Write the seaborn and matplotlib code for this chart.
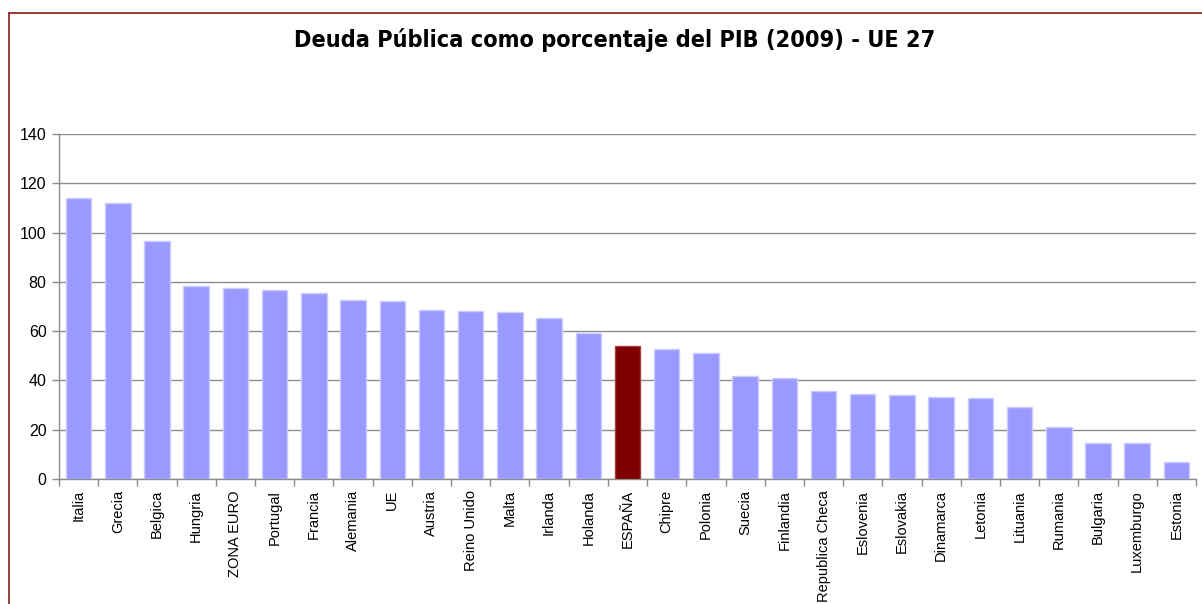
import matplotlib
matplotlib.use("Agg")
import matplotlib.pyplot as plt
import seaborn as sns
import numpy as np
from matplotlib.lines import Line2D
from matplotlib import font_manager

paises = ["Italia", "Grecia", "Belgica", "Hungria", "ZONA EURO", "Portugal", "Francia",
          "Alemania", "UE", "Austria", "Reino Unido", "Malta", "Irlanda", "Holanda",
          "ESPAÑA", "Chipre", "Polonia", "Suecia", "Finlandia", "Republica Checa",
          "Eslovenia", "Eslovakia", "Dinamarca", "Letonia", "Lituania", "Rumania",
          "Bulgaria", "Luxemburgo", "Estonia"]
deuda = [114.0, 112.1, 96.6, 78.5, 77.5, 76.7, 75.4, 72.5, 72.3, 68.6, 68.0, 67.8, 65.3,
         59.2, 53.8, 52.6, 51.1, 41.6, 40.8, 35.9, 34.4, 33.9, 33.1, 32.7, 29.4, 21.3,
         14.5, 14.5, 6.8]
destacado = "ESPAÑA"
yticks = [0, 20, 40, 60, 80, 100, 120, 140]
titulo = "Deuda Pública como porcentaje del PIB (2009) - UE 27"

sns.set_style("white")
plt.rcParams['font.family'] = ['Liberation Sans', 'DejaVu Sans']

fig = plt.figure(figsize=(12.02, 6.04), dpi=100)
ax = fig.add_axes([59 / 1202, 1 - 479 / 604, (1196 - 59) / 1202, (479 - 134) / 604])

colores = ["#800000" if p == destacado else "#9999FF" for p in paises]
bordes = ["#A04040" if p == destacado else "#CCCCFF" for p in paises]
sns.barplot(x=paises, y=deuda, hue=paises, palette=colores, legend=False,
            width=0.65, ax=ax, zorder=3, saturation=1)
for patch, ec in zip(ax.patches, bordes):
    patch.set_edgecolor(ec)
    patch.set_linewidth(1.0)

n = len(paises)
ax.set_xlim(-0.5, n - 0.5)
ax.set_ylim(0, 140)
ax.set_yticks(yticks)
ax.set_yticklabels([str(v) for v in yticks], fontsize=11.5, color="#000000")
ax.yaxis.grid(True, color="#8C8C8C", linewidth=1.0, zorder=0)
ax.set_axisbelow(True)

ax.set_xticks(range(n))
ax.set_xticklabels(paises, rotation=90, fontsize=10.5, va="top", ha="center", color="#000000")
ax.tick_params(axis="x", which="major", length=0, pad=8)
ax.set_xticks(np.arange(-0.5, n, 1.0), minor=True)
ax.tick_params(axis="x", which="minor", length=5, color="#8C8C8C", width=1, direction="out", bottom=True)
ax.tick_params(axis="y", length=5, color="#8C8C8C", width=1, direction="out", pad=4, left=True)

for side in ["top", "right"]:
    ax.spines[side].set_visible(False)
for side in ["left", "bottom"]:
    ax.spines[side].set_visible(True)
    ax.spines[side].set_color("#8C8C8C")
    ax.spines[side].set_linewidth(1.0)
ax.set_xlabel("")
ax.set_ylabel("")

# Título en fuente estrecha si está disponible
nombres = {f.name for f in font_manager.fontManager.ttflist}
if "Liberation Sans Narrow" in nombres:
    fam_titulo = ["Liberation Sans Narrow", "DejaVu Sans"]
    stretch = "normal"
    tam = 19
else:
    fam_titulo = ["DejaVu Sans", "Liberation Sans"]
    stretch = "condensed"
    tam = 16.8
fig.text(615 / 1202, 1 - 40 / 604, titulo, ha="center", va="center",
         fontsize=tam, fontweight="bold", fontstretch=stretch, color="#000000",
         family=fam_titulo)

# Marco rojo oscuro (bordes superior e izquierdo)
fig.add_artist(Line2D([8.5 / 1202, 1.0], [1 - 12.5 / 604, 1 - 12.5 / 604],
                      transform=fig.transFigure, color="#8B1A1A", linewidth=1.2))
fig.add_artist(Line2D([8.5 / 1202, 8.5 / 1202], [0.0, 1 - 12.5 / 604],
                      transform=fig.transFigure, color="#8B1A1A", linewidth=1.2))

fig.savefig("out.png", dpi=100)
